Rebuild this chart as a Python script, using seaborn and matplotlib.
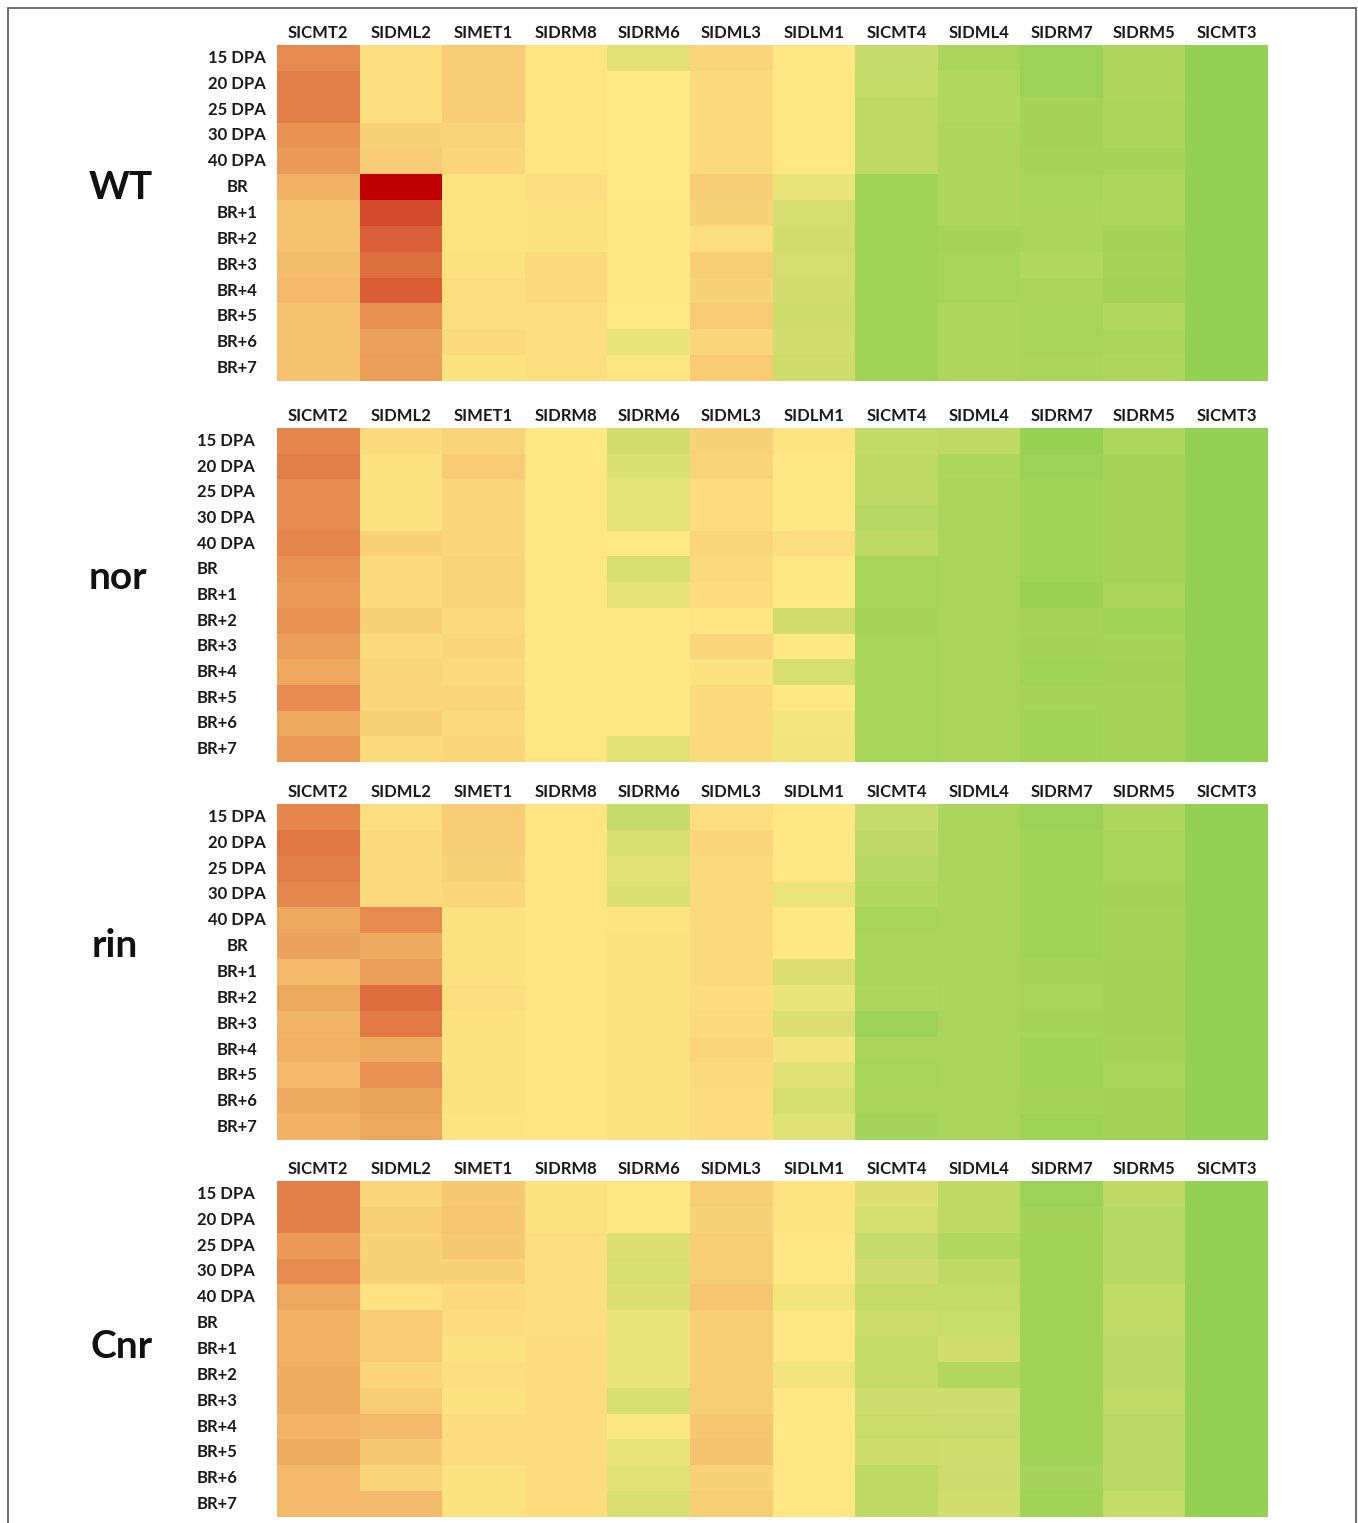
import numpy as np
import pandas as pd
import matplotlib
matplotlib.use("Agg")
import matplotlib.pyplot as plt
from matplotlib.colors import LinearSegmentedColormap
from matplotlib.patches import Rectangle
import seaborn as sns

# gene columns and sampling stages
genes = ["SICMT2", "SIDML2", "SIMET1", "SIDRM8", "SIDRM6", "SIDML3",
         "SIDLM1", "SICMT4", "SIDML4", "SIDRM7", "SIDRM5", "SICMT3"]
stages = ["15 DPA", "20 DPA", "25 DPA", "30 DPA", "40 DPA", "BR",
          "BR+1", "BR+2", "BR+3", "BR+4", "BR+5", "BR+6", "BR+7"]

# colour-scale values (0 = green, 50 = yellow, 100 = dark red)
wt_values = [
    [70, 52, 56, 50.5, 36, 54, 50, 24, 11, 5, 13, 1],
    [73, 52, 56, 50.5, 49, 53, 50, 23, 15, 5, 13, 1],
    [73, 52, 56, 50.5, 49, 53, 50, 20, 15, 8, 11, 1],
    [68, 55, 54.5, 50.5, 49, 53, 50, 20, 13, 8, 11, 1],
    [67, 56, 54, 50.5, 49, 53, 50, 20, 13, 9, 9, 1],
    [62, 100, 51, 52, 49, 56, 40, 7, 13, 10, 12, 1],
    [58, 84, 51, 51.5, 50, 55, 30, 7, 13, 11, 12, 1],
    [58, 79, 51, 51.5, 50, 52, 29, 7, 9, 11, 8, 1],
    [59, 76, 51.5, 53, 50, 55.5, 30, 7, 10, 14, 9, 1],
    [60, 80, 52, 53, 50, 55, 29, 7, 10, 11, 8, 1],
    [58, 69, 52, 52, 49.5, 56.5, 28, 7, 12, 10, 15, 1],
    [58, 65.5, 53, 52, 40, 54, 29, 7, 12, 10, 11, 1],
    [58, 66, 51.5, 52, 48, 56.5, 27, 7, 12, 11, 12, 1],
]
nor_values = [
    [71, 53, 54.5, 50, 29, 55, 51, 22, 20, 2, 12, 1],
    [73, 51.5, 56.5, 50, 33, 54.5, 50, 20, 12, 5, 9, 1],
    [70, 51.5, 54, 50, 38, 52.5, 50, 20, 11, 7, 9, 1],
    [70, 51.5, 54, 50, 38, 52.5, 50, 17, 11, 7, 9, 1],
    [71, 55, 54, 50, 49, 54, 52, 20, 11, 7, 9, 1],
    [68, 53, 54.5, 50, 32, 53, 50, 10, 11, 7, 9, 1],
    [67, 53, 54.5, 50, 39, 52.5, 50, 10, 11, 4, 11, 1],
    [68, 55, 53, 50, 50, 50.5, 29, 9, 11, 9, 7, 1],
    [66, 53, 54, 50, 50, 54, 50, 10, 11, 8, 9, 1],
    [64, 54, 53, 50, 50, 51.5, 32, 10, 11, 7, 8, 1],
    [70, 54, 54, 50, 50, 53, 50, 10, 11, 9, 9, 1],
    [64, 55, 53, 50, 50, 53, 45, 10, 11, 7, 9, 1],
    [67, 53, 54, 50, 36, 53, 44, 10, 11, 7, 9, 1],
]
rin_values = [
    [71, 52, 56, 50.5, 24, 52, 50, 24, 11, 5, 12, 1],
    [74, 53, 56, 50.5, 31, 54, 50, 21, 11, 7, 10, 1],
    [73, 53, 55, 50.5, 36, 53, 50, 17, 11, 7, 10, 1],
    [70.5, 53, 54, 50.5, 33, 53, 41, 15, 11, 7, 8, 1],
    [64, 70, 51.5, 50.5, 51, 53, 50, 10, 11, 7, 9, 1],
    [65, 63, 51.5, 50.5, 51.5, 53, 50, 11, 11, 7, 9, 1],
    [60, 66, 51.5, 50.5, 51.5, 53, 34, 11, 11, 9, 8, 1],
    [64, 76.5, 52, 50.5, 51.5, 52.5, 40, 12, 11, 10, 8, 1],
    [61, 73.5, 51.5, 50.5, 51.5, 53, 34, 5, 11, 9, 8, 1],
    [62, 63, 51.5, 50.5, 51.5, 54, 44, 11, 11, 7, 9, 1],
    [60, 68, 51.5, 50.5, 51.5, 53, 35, 10, 11, 7, 10, 1],
    [63, 64.5, 51.5, 50.5, 51.5, 52.5, 30, 11, 11, 9, 8, 1],
    [61.5, 64, 51, 50.5, 51.5, 52.5, 35, 8.5, 11, 6, 8, 1],
]
cnr_values = [
    [72.5, 54, 57, 51.5, 50, 55.5, 51, 34, 20, 5, 20, 1],
    [72.5, 55.5, 57.5, 51.5, 50, 55, 51, 30, 20, 8, 17, 1],
    [67, 55, 57, 52, 34, 55.5, 50, 24, 15, 7, 17, 1],
    [70, 55, 55, 52, 32, 55.5, 50, 27.5, 20, 7, 17, 1],
    [64, 51, 53, 52, 34, 57.5, 44, 23, 23, 7, 22, 1],
    [62, 56.5, 52.5, 52, 40, 55.5, 50, 27, 24.5, 7, 22, 1],
    [62, 56.5, 51.5, 52.5, 40, 55.5, 50, 23, 29, 7, 19, 1],
    [62.5, 54, 52, 52.5, 40, 55.5, 44, 23, 14, 7, 19, 1],
    [62.5, 56, 51.5, 52.5, 32, 55.5, 50, 27.5, 27.5, 7, 22, 1],
    [61, 60, 52.5, 52.5, 47, 57.5, 50, 25, 26, 7, 19, 1],
    [62.5, 57, 52.5, 52.5, 40, 58, 50, 28, 28.5, 7, 19, 1],
    [60, 54.5, 51.5, 52.5, 36, 55, 50, 20, 27.5, 8.5, 19, 1],
    [60, 60, 51.5, 52.5, 32, 55.5, 50, 20, 28.5, 7, 23, 1],
]

panel_names = ["WT", "nor", "rin", "Cnr"]
panel_data = [wt_values, nor_values, rin_values, cnr_values]

# layout in pixels
W, H = 1358, 1523
heat_left, heat_right = 277, 1268
heat_tops = [45, 428, 804, 1181]
heat_bottoms = [381, 762, 1140, 1517]
label_align = ["center", "left", "center", "left"]
name_pos = [(121, 199), (118, 589), (115, 957), (122, 1358)]

cmap = LinearSegmentedColormap.from_list("gyr", ["#92D050", "#FFE884", "#C00000"])

sns.set_style("white")
plt.rcParams["font.family"] = ["Lato", "DejaVu Sans"]

fig = plt.figure(figsize=(W / 100, H / 100), dpi=100)

for i in range(4):
    df = pd.DataFrame(panel_data[i], index=stages, columns=genes)
    top, bot = heat_tops[i], heat_bottoms[i]
    ax = fig.add_axes([heat_left / W, 1 - bot / H,
                       (heat_right - heat_left) / W, (bot - top) / H])
    sns.heatmap(df, ax=ax, cmap=cmap, vmin=0, vmax=100, cbar=False,
                xticklabels=True, yticklabels=True, linewidths=0)
    ax.xaxis.tick_top()
    ax.tick_params(axis="both", length=0)
    ax.tick_params(axis="x", pad=3)
    for t in ax.get_xticklabels():
        t.set_fontsize(12)
        t.set_fontweight("bold")
        t.set_color("#1a1a1a")
        t.set_rotation(0)
    if label_align[i] == "center":
        ax.tick_params(axis="y", pad=40 * 0.72)
    else:
        ax.tick_params(axis="y", pad=80 * 0.72)
    for t in ax.get_yticklabels():
        t.set_fontsize(12)
        t.set_fontweight("bold")
        t.set_color("#1a1a1a")
        t.set_rotation(0)
        t.set_horizontalalignment(label_align[i])
    ax.set_xlabel("")
    ax.set_ylabel("")

    nx, ny = name_pos[i]
    fig.text(nx / W, 1 - ny / H, panel_names[i], fontsize=28, fontweight="bold",
             ha="center", va="baseline", color="#111111")

# thin frame around the whole figure
fig.add_artist(Rectangle((8 / W, -0.05), (1356 - 8) / W, 1.05 - 8 / H,
                         transform=fig.transFigure, fill=False,
                         edgecolor="#555555", linewidth=1.2))

fig.savefig("out.png", dpi=100, facecolor="white")
